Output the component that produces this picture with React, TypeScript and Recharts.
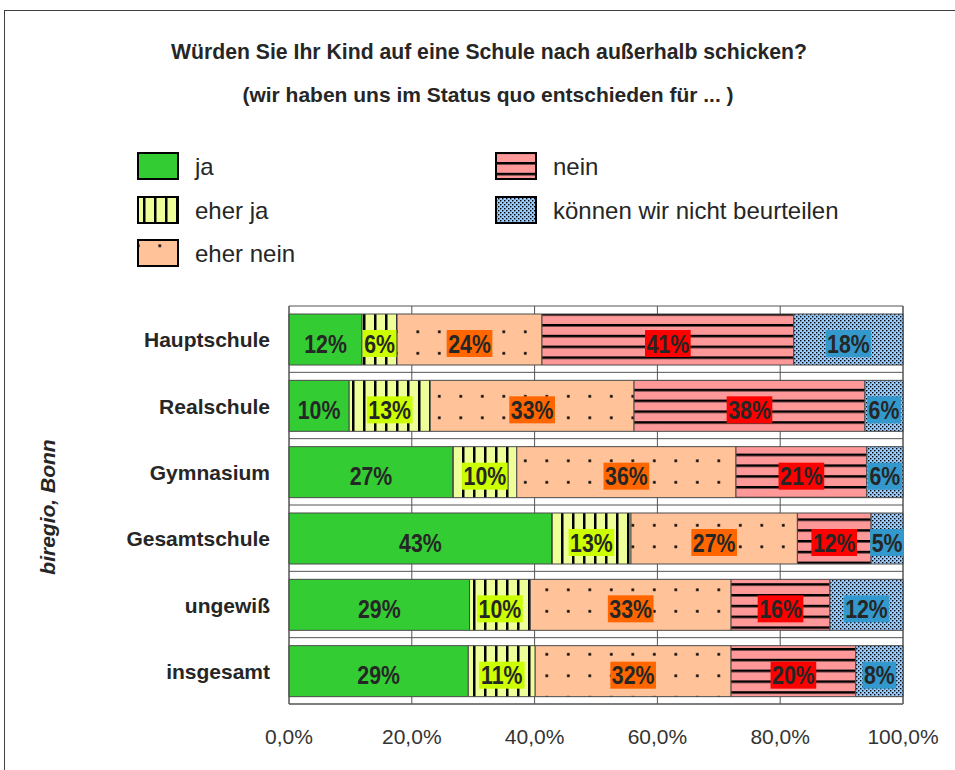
import React from 'react';
import { BarChart, Bar, XAxis, YAxis, CartesianGrid, LabelList } from 'recharts';

const categories = ['Hauptschule', 'Realschule', 'Gymnasium', 'Gesamtschule', 'ungewiß', 'insgesamt'];
const ja = [11.9, 9.8, 26.7, 42.8, 29.4, 29.2];
const eherJa = [5.7, 13.2, 10.4, 12.9, 9.9, 10.9];
const eherNein = [23.6, 33.2, 35.7, 27.1, 32.7, 31.9];
const nein = [41.0, 37.6, 21.3, 12.0, 16.1, 20.3];
const nichtBeurteilen = [17.8, 6.2, 5.9, 5.2, 11.9, 7.7];
const xTicks = [0, 20, 40, 60, 80, 100];

const FONT = '"Liberation Sans", Arial, sans-serif';

const series = [
  { key: 'ja', name: 'ja', values: ja, fill: '#33CC33', labelBg: '' },
  { key: 'eherJa', name: 'eher ja', values: eherJa, fill: 'url(#pat-eherja)', labelBg: '#CCFF00' },
  { key: 'eherNein', name: 'eher nein', values: eherNein, fill: 'url(#pat-ehernein)', labelBg: '#FF6600' },
  { key: 'nein', name: 'nein', values: nein, fill: 'url(#pat-nein)', labelBg: '#FF0000' },
  { key: 'nb', name: 'können wir nicht beurteilen', values: nichtBeurteilen, fill: 'url(#pat-nb)', labelBg: '#3399CC' },
];

const data = categories.map((cat, i) => {
  const row: any = { cat };
  series.forEach(s => { row[s.key] = s.values[i]; });
  return row;
});

function Patterns() {
  return (
    <svg width={0} height={0} style={{ position: 'absolute' }}>
      <defs>
        <pattern id="pat-eherja" patternUnits="userSpaceOnUse" width={11} height={10}>
          <rect width={11} height={10} fill="#EEFF99" />
          <rect x={0} width={2.5} height={10} fill="#000" />
        </pattern>
        <pattern id="pat-ehernein" patternUnits="userSpaceOnUse" width={21.5} height={21.5}>
          <rect width={21.5} height={21.5} fill="#FFC299" />
          <rect x={8} y={8} width={2.6} height={2.6} fill="#000" />
        </pattern>
        <pattern id="pat-nein" patternUnits="userSpaceOnUse" width={10} height={10.8}>
          <rect width={10} height={10.8} fill="#FF9999" />
          <rect y={0} width={10} height={2.5} fill="#000" />
        </pattern>
        <pattern id="pat-nb" patternUnits="userSpaceOnUse" width={4} height={4}>
          <rect width={4} height={4} fill="#99CCFF" />
          <rect x={0} y={0} width={1.4} height={1.4} fill="#000" />
          <rect x={2} y={2} width={1.4} height={1.4} fill="#000" />
        </pattern>
      </defs>
    </svg>
  );
}

function makeLabel(bg: string) {
  return (props: any) => {
    const { x, y, width, height, value } = props;
    const text = `${Math.round(value)}%`;
    const fs = 26;
    const sx = 0.82;
    const digits = text.length - 1;
    const w = (digits * 0.556 + 0.889) * fs * sx + 3;
    const cx = x + width / 2;
    const cy = y + height / 2 + 4;
    return (
      <g>
        {bg ? <rect x={cx - w / 2} y={cy - 13.5} width={w} height={27} fill={bg} /> : null}
        <text
          transform={`translate(${cx},${cy + 9.3}) scale(${sx},1)`}
          x={0}
          y={0}
          textAnchor="middle"
          fontFamily={FONT}
          fontWeight="bold"
          fontSize={fs}
          fill="#262626"
        >
          {text}
        </text>
      </g>
    );
  };
}

function CatTick(props: any) {
  const { x, y, payload } = props;
  return (
    <text x={x} y={y + 8} textAnchor="end" fontFamily={FONT} fontWeight="bold" fontSize={21} fill="#262626">
      {payload.value}
    </text>
  );
}

const legendCols = [
  [series[0], series[1], series[2]],
  [series[3], series[4]],
];

function Legend() {
  const colX = [137, 495];
  const rowY = [166, 210, 253];
  return (
    <>
      {legendCols.map((col, ci) =>
        col.map((s, ri) => (
          <g key={s.key}>
            <rect x={colX[ci] + 1} y={rowY[ri] - 13} width={40} height={26} fill={s.fill} stroke="#000" strokeWidth={2} />
            <text x={colX[ci] + 58} y={rowY[ri] + 8.5} fontFamily={FONT} fontSize={24} fill="#262626">{s.name}</text>
          </g>
        ))
      )}
    </>
  );
}

export default function App() {
  return (
    <div style={{ position: 'absolute', left: 0, top: 0, width: 955, height: 770, overflow: 'hidden', background: '#fff' }}>
      <Patterns />
      <div style={{ position: 'absolute', left: 4, top: 10, width: 1000, height: 800, border: '1.5px solid #404040' }} />
      <div style={{ position: 'absolute', left: 0, top: 0 }}>
        <BarChart width={955} height={770} data={data} layout="vertical" margin={{ top: 306, right: 52, bottom: 16, left: 0 }}>
          <CartesianGrid
            stroke="#555"
            horizontalCoordinatesGenerator={(p: any) => {
              const o = p.offset;
              return categories.map((_, i) => o.top + (i * o.height) / categories.length).concat(o.top + o.height);
            }}
          />
          <XAxis
            type="number"
            domain={[0, 100]}
            ticks={xTicks}
            height={50}
            tickLine={false}
            axisLine={{ stroke: '#555' }}
            tickMargin={19}
            tickFormatter={(v: number) => v.toFixed(1).replace('.', ',') + '%'}
            tick={{ fontFamily: FONT, fontSize: 21, fill: '#333' }}
          />
          <YAxis type="category" dataKey="cat" width={289} tickLine={false} axisLine={{ stroke: '#555' }} tickMargin={13} tick={<CatTick />} />
          {series.map(s => (
            <Bar key={s.key} dataKey={s.key} stackId="a" fill={s.fill} stroke="#4a4a4a" strokeWidth={1} barSize={51} isAnimationActive={false}>
              <LabelList dataKey={s.key} content={makeLabel(s.labelBg)} />
            </Bar>
          ))}
        </BarChart>
      </div>
      <svg width={955} height={770} style={{ position: 'absolute', left: 0, top: 0, pointerEvents: 'none' }}>
        <text x={489} y={59} textAnchor="middle" fontFamily={FONT} fontWeight="bold" fontSize={21.2} fill="#262626">
          Würden Sie Ihr Kind auf eine Schule nach außerhalb schicken?
        </text>
        <text x={488} y={102} textAnchor="middle" fontFamily={FONT} fontWeight="bold" fontSize={21} fill="#262626">
          (wir haben uns im Status quo entschieden für ... )
        </text>
        <Legend />
        <text transform="translate(55,507) rotate(-90)" textAnchor="middle" fontFamily={FONT} fontWeight="bold" fontStyle="italic" fontSize={21} fill="#262626">
          biregio, Bonn
        </text>
      </svg>
    </div>
  );
}
